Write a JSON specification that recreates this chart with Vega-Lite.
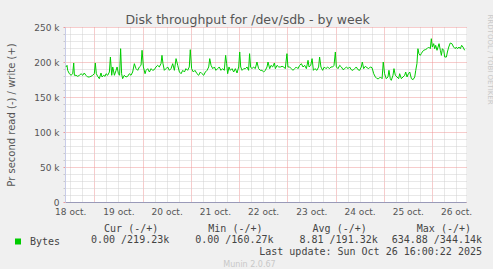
{
  "$schema": "https://vega.github.io/schema/vega-lite/v6.json",
  "background": "#F0F0F0",
  "padding": {"left": 5, "top": 13, "right": 0, "bottom": 0},
  "bounds": "flush",
  "spacing": 26.5,
  "config": {"font": "DejaVu Sans"},
  "vconcat": [
    {
      "title": {"text": "Disk throughput for /dev/sdb - by week", "font": "DejaVu Sans", "fontSize": 12.5, "fontWeight": "normal", "color": "#555555", "anchor": "middle", "dx": -18, "offset": -12},
      "width": 401,
      "height": 175,
      "view": {"fill": "white", "stroke": null},
      "data": {"values": [
        {"t": "2025-10-18T09:55", "v": 192900}, {"t": "2025-10-18T10:25", "v": 195200}, {"t": "2025-10-18T10:45", "v": 188100}, {"t": "2025-10-18T11:35", "v": 183300}, {"t": "2025-10-18T12:25", "v": 181000}, {"t": "2025-10-18T13:15", "v": 183300}, {"t": "2025-10-18T13:45", "v": 198600}, {"t": "2025-10-18T14:05", "v": 181000}, {"t": "2025-10-18T14:55", "v": 181000}, {"t": "2025-10-18T15:45", "v": 179500}, {"t": "2025-10-18T16:35", "v": 181000}, {"t": "2025-10-18T17:25", "v": 183300}, {"t": "2025-10-18T18:15", "v": 181000}, {"t": "2025-10-18T19:00", "v": 184300}, {"t": "2025-10-18T19:50", "v": 181000}, {"t": "2025-10-18T20:40", "v": 178600}, {"t": "2025-10-18T21:30", "v": 178600}, {"t": "2025-10-18T22:20", "v": 179500}, {"t": "2025-10-18T23:10", "v": 181000},
        {"t": "2025-10-19T00:00", "v": 183300}, {"t": "2025-10-19T00:30", "v": 198600}, {"t": "2025-10-19T01:00", "v": 183300}, {"t": "2025-10-19T01:40", "v": 179500}, {"t": "2025-10-19T02:30", "v": 176200}, {"t": "2025-10-19T03:20", "v": 184300}, {"t": "2025-10-19T03:50", "v": 178600}, {"t": "2025-10-19T04:40", "v": 181000}, {"t": "2025-10-19T05:20", "v": 179500}, {"t": "2025-10-19T05:50", "v": 183300}, {"t": "2025-10-19T06:40", "v": 181000}, {"t": "2025-10-19T07:30", "v": 185700}, {"t": "2025-10-19T08:00", "v": 207100}, {"t": "2025-10-19T08:40", "v": 181000}, {"t": "2025-10-19T09:10", "v": 192900}, {"t": "2025-10-19T10:00", "v": 181000}, {"t": "2025-10-19T10:50", "v": 188100}, {"t": "2025-10-19T11:20", "v": 192900}, {"t": "2025-10-19T12:00", "v": 183300}, {"t": "2025-10-19T12:35", "v": 181000}, {"t": "2025-10-19T13:05", "v": 219000}, {"t": "2025-10-19T13:35", "v": 183300}, {"t": "2025-10-19T14:05", "v": 176200}, {"t": "2025-10-19T14:55", "v": 181000}, {"t": "2025-10-19T15:45", "v": 178600}, {"t": "2025-10-19T16:35", "v": 179500}, {"t": "2025-10-19T17:25", "v": 183300}, {"t": "2025-10-19T18:15", "v": 181000}, {"t": "2025-10-19T19:05", "v": 185700}, {"t": "2025-10-19T19:55", "v": 197600}, {"t": "2025-10-19T20:45", "v": 190500}, {"t": "2025-10-19T21:35", "v": 188100}, {"t": "2025-10-19T22:25", "v": 192900}, {"t": "2025-10-19T23:15", "v": 195200}, {"t": "2025-10-19T23:45", "v": 216700},
        {"t": "2025-10-20T00:25", "v": 192900}, {"t": "2025-10-20T01:15", "v": 183300}, {"t": "2025-10-20T01:45", "v": 188100}, {"t": "2025-10-20T02:35", "v": 190500}, {"t": "2025-10-20T03:25", "v": 185700}, {"t": "2025-10-20T04:15", "v": 190500}, {"t": "2025-10-20T05:00", "v": 188100}, {"t": "2025-10-20T05:50", "v": 189000}, {"t": "2025-10-20T06:40", "v": 192900}, {"t": "2025-10-20T07:30", "v": 195200}, {"t": "2025-10-20T08:20", "v": 192900}, {"t": "2025-10-20T09:10", "v": 197600}, {"t": "2025-10-20T09:40", "v": 209500}, {"t": "2025-10-20T10:10", "v": 197600}, {"t": "2025-10-20T10:50", "v": 188100}, {"t": "2025-10-20T11:40", "v": 190500}, {"t": "2025-10-20T12:30", "v": 192900}, {"t": "2025-10-20T13:20", "v": 188100}, {"t": "2025-10-20T14:10", "v": 190500}, {"t": "2025-10-20T15:00", "v": 197600}, {"t": "2025-10-20T15:50", "v": 188100}, {"t": "2025-10-20T16:40", "v": 204800}, {"t": "2025-10-20T17:30", "v": 195200}, {"t": "2025-10-20T18:20", "v": 185700}, {"t": "2025-10-20T19:10", "v": 183300}, {"t": "2025-10-20T20:00", "v": 188100}, {"t": "2025-10-20T20:50", "v": 185700}, {"t": "2025-10-20T21:35", "v": 190500}, {"t": "2025-10-20T22:25", "v": 188100}, {"t": "2025-10-20T23:15", "v": 192900}, {"t": "2025-10-20T23:45", "v": 217600},
        {"t": "2025-10-21T00:25", "v": 190500}, {"t": "2025-10-21T01:15", "v": 185700}, {"t": "2025-10-21T02:05", "v": 188100}, {"t": "2025-10-21T03:05", "v": 183300}, {"t": "2025-10-21T03:55", "v": 181000}, {"t": "2025-10-21T04:45", "v": 185700}, {"t": "2025-10-21T05:35", "v": 183300}, {"t": "2025-10-21T06:25", "v": 181000}, {"t": "2025-10-21T07:15", "v": 185700}, {"t": "2025-10-21T08:05", "v": 188100}, {"t": "2025-10-21T08:55", "v": 192900}, {"t": "2025-10-21T09:25", "v": 204800}, {"t": "2025-10-21T10:05", "v": 195200}, {"t": "2025-10-21T10:55", "v": 190500}, {"t": "2025-10-21T11:45", "v": 192900}, {"t": "2025-10-21T12:30", "v": 188100}, {"t": "2025-10-21T13:20", "v": 190500}, {"t": "2025-10-21T14:10", "v": 192900}, {"t": "2025-10-21T15:00", "v": 188100}, {"t": "2025-10-21T15:50", "v": 190500}, {"t": "2025-10-21T16:40", "v": 188100}, {"t": "2025-10-21T17:20", "v": 209500}, {"t": "2025-10-21T17:50", "v": 197600}, {"t": "2025-10-21T18:20", "v": 183300}, {"t": "2025-10-21T19:00", "v": 192900}, {"t": "2025-10-21T19:40", "v": 188100}, {"t": "2025-10-21T20:30", "v": 190500}, {"t": "2025-10-21T21:20", "v": 185700}, {"t": "2025-10-21T22:10", "v": 190500}, {"t": "2025-10-21T23:00", "v": 184300}, {"t": "2025-10-21T23:50", "v": 192900},
        {"t": "2025-10-22T00:20", "v": 214300}, {"t": "2025-10-22T00:50", "v": 192900}, {"t": "2025-10-22T01:30", "v": 188100}, {"t": "2025-10-22T02:20", "v": 190500}, {"t": "2025-10-22T03:10", "v": 190500}, {"t": "2025-10-22T04:00", "v": 192900}, {"t": "2025-10-22T04:45", "v": 188100}, {"t": "2025-10-22T05:15", "v": 211900}, {"t": "2025-10-22T05:45", "v": 192900}, {"t": "2025-10-22T06:25", "v": 190500}, {"t": "2025-10-22T07:15", "v": 192900}, {"t": "2025-10-22T08:05", "v": 190500}, {"t": "2025-10-22T08:55", "v": 200000}, {"t": "2025-10-22T09:45", "v": 190500}, {"t": "2025-10-22T10:35", "v": 188100}, {"t": "2025-10-22T11:25", "v": 188100}, {"t": "2025-10-22T12:15", "v": 185700}, {"t": "2025-10-22T13:05", "v": 188100}, {"t": "2025-10-22T13:55", "v": 192900}, {"t": "2025-10-22T14:25", "v": 200000}, {"t": "2025-10-22T15:15", "v": 190500}, {"t": "2025-10-22T15:55", "v": 195200}, {"t": "2025-10-22T16:45", "v": 192900}, {"t": "2025-10-22T17:35", "v": 198600}, {"t": "2025-10-22T18:05", "v": 190500}, {"t": "2025-10-22T18:55", "v": 195200}, {"t": "2025-10-22T19:45", "v": 192900}, {"t": "2025-10-22T20:35", "v": 192900}, {"t": "2025-10-22T21:25", "v": 193800}, {"t": "2025-10-22T22:15", "v": 192900}, {"t": "2025-10-22T23:00", "v": 190500}, {"t": "2025-10-22T23:50", "v": 211900},
        {"t": "2025-10-23T00:20", "v": 192900}, {"t": "2025-10-23T01:10", "v": 192900}, {"t": "2025-10-23T02:00", "v": 190500}, {"t": "2025-10-23T02:50", "v": 188100}, {"t": "2025-10-23T03:40", "v": 190500}, {"t": "2025-10-23T04:30", "v": 192900}, {"t": "2025-10-23T05:20", "v": 190500}, {"t": "2025-10-23T06:10", "v": 195200}, {"t": "2025-10-23T07:00", "v": 197600}, {"t": "2025-10-23T07:50", "v": 192900}, {"t": "2025-10-23T08:40", "v": 195200}, {"t": "2025-10-23T09:30", "v": 190500}, {"t": "2025-10-23T10:20", "v": 202400}, {"t": "2025-10-23T10:50", "v": 192900}, {"t": "2025-10-23T11:40", "v": 195200}, {"t": "2025-10-23T12:20", "v": 204800}, {"t": "2025-10-23T13:00", "v": 188100}, {"t": "2025-10-23T13:45", "v": 190500}, {"t": "2025-10-23T14:45", "v": 188100}, {"t": "2025-10-23T15:35", "v": 192900}, {"t": "2025-10-23T16:05", "v": 207100}, {"t": "2025-10-23T16:45", "v": 192900}, {"t": "2025-10-23T17:35", "v": 188100}, {"t": "2025-10-23T18:25", "v": 192900}, {"t": "2025-10-23T19:15", "v": 190500}, {"t": "2025-10-23T20:05", "v": 192900}, {"t": "2025-10-23T20:55", "v": 190500}, {"t": "2025-10-23T21:45", "v": 192900}, {"t": "2025-10-23T22:35", "v": 192900}, {"t": "2025-10-23T23:15", "v": 195200}, {"t": "2025-10-23T23:55", "v": 214300},
        {"t": "2025-10-24T00:25", "v": 192900}, {"t": "2025-10-24T01:15", "v": 190500}, {"t": "2025-10-24T02:05", "v": 195200}, {"t": "2025-10-24T02:55", "v": 192900}, {"t": "2025-10-24T03:45", "v": 189000}, {"t": "2025-10-24T04:35", "v": 190500}, {"t": "2025-10-24T05:25", "v": 192900}, {"t": "2025-10-24T06:15", "v": 190500}, {"t": "2025-10-24T07:00", "v": 192900}, {"t": "2025-10-24T07:50", "v": 189000}, {"t": "2025-10-24T08:40", "v": 188100}, {"t": "2025-10-24T09:30", "v": 190500}, {"t": "2025-10-24T10:20", "v": 192900}, {"t": "2025-10-24T11:10", "v": 189000}, {"t": "2025-10-24T12:00", "v": 188100}, {"t": "2025-10-24T12:50", "v": 192900}, {"t": "2025-10-24T13:20", "v": 200000}, {"t": "2025-10-24T14:00", "v": 190500}, {"t": "2025-10-24T14:50", "v": 193800}, {"t": "2025-10-24T15:40", "v": 191900}, {"t": "2025-10-24T16:30", "v": 190500}, {"t": "2025-10-24T17:20", "v": 192900}, {"t": "2025-10-24T18:10", "v": 191900}, {"t": "2025-10-24T19:00", "v": 183300}, {"t": "2025-10-24T19:50", "v": 178600}, {"t": "2025-10-24T20:40", "v": 176200}, {"t": "2025-10-24T21:30", "v": 176200}, {"t": "2025-10-24T22:20", "v": 178600}, {"t": "2025-10-24T23:10", "v": 176200}, {"t": "2025-10-24T23:45", "v": 200000},
        {"t": "2025-10-25T00:25", "v": 183300}, {"t": "2025-10-25T01:15", "v": 176200}, {"t": "2025-10-25T02:05", "v": 178600}, {"t": "2025-10-25T02:35", "v": 188100}, {"t": "2025-10-25T03:15", "v": 176200}, {"t": "2025-10-25T03:45", "v": 173800}, {"t": "2025-10-25T04:35", "v": 181000}, {"t": "2025-10-25T05:05", "v": 190500}, {"t": "2025-10-25T05:45", "v": 181000}, {"t": "2025-10-25T06:35", "v": 178600}, {"t": "2025-10-25T07:25", "v": 176200}, {"t": "2025-10-25T07:55", "v": 183300}, {"t": "2025-10-25T08:45", "v": 176200}, {"t": "2025-10-25T09:35", "v": 178600}, {"t": "2025-10-25T10:25", "v": 181000}, {"t": "2025-10-25T10:55", "v": 185700}, {"t": "2025-10-25T11:35", "v": 178600}, {"t": "2025-10-25T12:15", "v": 183300}, {"t": "2025-10-25T12:55", "v": 185700}, {"t": "2025-10-25T13:45", "v": 176200}, {"t": "2025-10-25T14:35", "v": 174800}, {"t": "2025-10-25T15:25", "v": 178600}, {"t": "2025-10-25T15:55", "v": 188100}, {"t": "2025-10-25T16:30", "v": 197600}, {"t": "2025-10-25T17:00", "v": 219000}, {"t": "2025-10-25T17:30", "v": 211900}, {"t": "2025-10-25T18:10", "v": 209500}, {"t": "2025-10-25T18:40", "v": 211900}, {"t": "2025-10-25T19:10", "v": 214300}, {"t": "2025-10-25T19:50", "v": 216700}, {"t": "2025-10-25T20:40", "v": 217600}, {"t": "2025-10-25T21:30", "v": 219000}, {"t": "2025-10-25T22:20", "v": 221400}, {"t": "2025-10-25T23:10", "v": 219000}, {"t": "2025-10-25T23:40", "v": 233300},
        {"t": "2025-10-26T00:10", "v": 221400}, {"t": "2025-10-26T00:50", "v": 226200}, {"t": "2025-10-26T01:20", "v": 219000}, {"t": "2025-10-26T01:50", "v": 223800}, {"t": "2025-10-26T02:30", "v": 216700}, {"t": "2025-10-26T03:00", "v": 221400}, {"t": "2025-10-26T03:30", "v": 226200}, {"t": "2025-10-26T04:10", "v": 216700}, {"t": "2025-10-26T04:40", "v": 209500}, {"t": "2025-10-26T05:10", "v": 219000}, {"t": "2025-10-26T05:50", "v": 216700}, {"t": "2025-10-26T06:20", "v": 207100}, {"t": "2025-10-26T07:10", "v": 207100}, {"t": "2025-10-26T07:40", "v": 214300}, {"t": "2025-10-26T08:20", "v": 221400}, {"t": "2025-10-26T09:05", "v": 227100}, {"t": "2025-10-26T09:55", "v": 226200}, {"t": "2025-10-26T10:45", "v": 221400}, {"t": "2025-10-26T11:35", "v": 219000}, {"t": "2025-10-26T12:05", "v": 221400}, {"t": "2025-10-26T12:45", "v": 219000}, {"t": "2025-10-26T13:25", "v": 221400}, {"t": "2025-10-26T14:05", "v": 219000}, {"t": "2025-10-26T14:45", "v": 223800}, {"t": "2025-10-26T15:25", "v": 221400}, {"t": "2025-10-26T16:15", "v": 216700}
      ]},
      "resolve": {"axis": {"y": "independent"}},
      "layer": [
        {
          "mark": {"type": "line", "strokeWidth": 1, "clip": true},
          "encoding": {
            "x": {"field": "t", "type": "temporal",
              "scale": {"domain": [{"year": 2025, "month": 10, "date": 18, "hours": 9, "minutes": 25}, {"year": 2025, "month": 10, "date": 26, "hours": 16, "minutes": 55}]},
              "axis": {
                "title": null,
                "values": [
                  {"year": 2025, "month": 10, "date": 18, "hours": 12}, {"year": 2025, "month": 10, "date": 18, "hours": 18},
                  {"year": 2025, "month": 10, "date": 19, "hours": 0}, {"year": 2025, "month": 10, "date": 19, "hours": 6}, {"year": 2025, "month": 10, "date": 19, "hours": 12}, {"year": 2025, "month": 10, "date": 19, "hours": 18},
                  {"year": 2025, "month": 10, "date": 20, "hours": 0}, {"year": 2025, "month": 10, "date": 20, "hours": 6}, {"year": 2025, "month": 10, "date": 20, "hours": 12}, {"year": 2025, "month": 10, "date": 20, "hours": 18},
                  {"year": 2025, "month": 10, "date": 21, "hours": 0}, {"year": 2025, "month": 10, "date": 21, "hours": 6}, {"year": 2025, "month": 10, "date": 21, "hours": 12}, {"year": 2025, "month": 10, "date": 21, "hours": 18},
                  {"year": 2025, "month": 10, "date": 22, "hours": 0}, {"year": 2025, "month": 10, "date": 22, "hours": 6}, {"year": 2025, "month": 10, "date": 22, "hours": 12}, {"year": 2025, "month": 10, "date": 22, "hours": 18},
                  {"year": 2025, "month": 10, "date": 23, "hours": 0}, {"year": 2025, "month": 10, "date": 23, "hours": 6}, {"year": 2025, "month": 10, "date": 23, "hours": 12}, {"year": 2025, "month": 10, "date": 23, "hours": 18},
                  {"year": 2025, "month": 10, "date": 24, "hours": 0}, {"year": 2025, "month": 10, "date": 24, "hours": 6}, {"year": 2025, "month": 10, "date": 24, "hours": 12}, {"year": 2025, "month": 10, "date": 24, "hours": 18},
                  {"year": 2025, "month": 10, "date": 25, "hours": 0}, {"year": 2025, "month": 10, "date": 25, "hours": 6}, {"year": 2025, "month": 10, "date": 25, "hours": 12}, {"year": 2025, "month": 10, "date": 25, "hours": 18},
                  {"year": 2025, "month": 10, "date": 26, "hours": 0}, {"year": 2025, "month": 10, "date": 26, "hours": 6}, {"year": 2025, "month": 10, "date": 26, "hours": 12}
                ],
                "labelExpr": "hours(datum.value) == 12 ? timeFormat(datum.value, '%d') + ' oct.' : ''",
                "labelFont": "DejaVu Sans", "labelFontSize": 9, "labelColor": "#555555",
                "labelPadding": 5, "labelOverlap": false, "labelFlush": false,
                "tickSize": 0,
                "grid": true,
                "gridColor": {"condition": {"test": "hours(datum.value) == 0", "value": "#EE9999"}, "value": "#D0D0D0"},
                "gridDash": [1, 1],
                "gridWidth": 1,
                "domainColor": "#9A9AB8", "domainWidth": 1
              }
            },
            "y": {"field": "v", "type": "quantitative",
              "scale": {"domain": [0, 250000], "nice": false, "zero": true},
              "axis": {
                "values": [0, 10000, 20000, 30000, 40000, 50000, 60000, 70000, 80000, 90000, 100000, 110000, 120000, 130000, 140000, 150000, 160000, 170000, 180000, 190000, 200000, 210000, 220000, 230000, 240000, 250000],
                "labelExpr": "datum.value % 50000 == 0 ? (datum.value == 0 ? '0\u2002' : (datum.value / 1000) + ' k') : ''",
                "labelFont": "DejaVu Sans", "labelFontSize": 9, "labelColor": "#555555",
                "labelPadding": 4, "labelOverlap": false, "labelFlush": false,
                "tickSize": 2,
                "tickColor": {"condition": {"test": "datum.value % 50000 == 0", "value": "#EE9999"}, "value": "#C8C8C8"},
                "grid": true,
                "gridColor": {"condition": {"test": "datum.value % 50000 == 0", "value": "#EE9999"}, "value": "#D0D0D0"},
                "gridDash": [1, 1],
                "domainColor": "#C8CCE8",
                "title": "Pr second read (-) / write (+)",
                "titleFont": "DejaVu Sans", "titleFontSize": 10, "titleFontWeight": "normal", "titleColor": "#555555",
                "titleX": -54, "titleY": 87.5, "titleBaseline": "middle", "titleAlign": "center", "titleAngle": -90
              }
            },
            "color": {"datum": "Bytes", "type": "nominal",
              "scale": {"range": ["#00CC00"]},
              "legend": {"orient": "none", "legendX": -52, "legendY": 209.5, "title": null, "padding": 0,
                "symbolType": "square", "symbolSize": 36, "symbolFillColor": "#00CC00", "symbolStrokeWidth": 0,
                "labelFont": "DejaVu Sans Mono", "labelFontSize": 10, "labelColor": "#444444", "labelOffset": 7}
            }
          }
        },
        {
          "mark": {"type": "rule", "opacity": 0},
          "encoding": {
            "y": {"datum": 0, "type": "quantitative",
              "axis": {"orient": "right", "grid": false, "labels": false, "ticks": false, "domain": false,
                "title": "RRDTOOL / TOBI OETIKER", "titleFont": "DejaVu Sans", "titleFontSize": 7, "titleFontWeight": "normal", "titleColor": "#C8C8C8",
                "titleAngle": 90, "titleX": 23, "titleY": -13, "titleAlign": "left", "titleBaseline": "middle"}
            }
          }
        }
      ]
    },
    {
      "width": 417,
      "height": 35,
      "view": {"stroke": null},
      "data": {"values": [
        {"col": "Cur (-/+)", "value": "0.00 /219.23k"},
        {"col": "Min (-/+)", "value": "0.00 /160.27k"},
        {"col": "Avg (-/+)", "value": "8.81 /191.32k"},
        {"col": "Max (-/+)", "value": "634.88 /344.14k"}
      ]},
      "layer": [
        {
          "mark": {"type": "text", "align": "right", "baseline": "middle", "font": "DejaVu Sans Mono", "fontSize": 10, "color": "#444444", "dx": -11},
          "encoding": {
            "x": {"field": "col", "type": "nominal", "sort": null,
              "scale": {"type": "point", "domain": ["Cur (-/+)", "Min (-/+)", "Avg (-/+)", "Max (-/+)"], "paddingOuter": 0.48, "align": 1},
              "axis": null},
            "y": {"datum": "header", "type": "nominal",
              "scale": {"type": "point", "domain": ["header", "row", "update", "footer"], "padding": 0},
              "axis": null},
            "text": {"field": "col"}
          }
        },
        {
          "mark": {"type": "text", "align": "right", "baseline": "middle", "font": "DejaVu Sans Mono", "fontSize": 10, "color": "#444444"},
          "encoding": {
            "x": {"field": "col", "type": "nominal", "sort": null},
            "y": {"datum": "row", "type": "nominal"},
            "text": {"field": "value"}
          }
        },
        {
          "data": {"values": [{"text": "Last update: Sun Oct 26 16:00:22 2025"}]},
          "mark": {"type": "text", "align": "right", "baseline": "middle", "font": "DejaVu Sans Mono", "fontSize": 10, "color": "#444444"},
          "encoding": {
            "x": {"datum": "Max (-/+)", "type": "nominal"},
            "y": {"datum": "update", "type": "nominal"},
            "text": {"field": "text"}
          }
        },
        {
          "data": {"values": [{"text": "Munin 2.0.67"}]},
          "mark": {"type": "text", "align": "center", "baseline": "middle", "font": "DejaVu Sans", "fontSize": 8, "color": "#C8C8C8", "dx": -24, "dy": 1.5},
          "encoding": {
            "x": {"datum": "Min (-/+)", "type": "nominal"},
            "y": {"datum": "footer", "type": "nominal"},
            "text": {"field": "text"}
          }
        }
      ]
    }
  ]
}
